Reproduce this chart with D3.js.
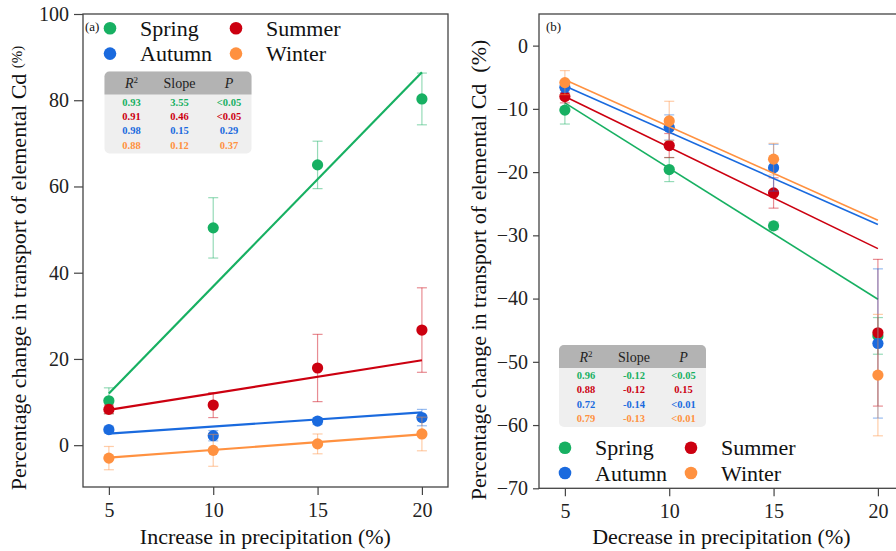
<!DOCTYPE html>
<meta charset="utf-8">
<style>
body { margin: 0; background: #fff; }
svg text { font-family: "Liberation Serif", "Times New Roman", serif !important; }
.tick text { font-size: 20px; fill: #222; }
.tick line { stroke: #444; stroke-width: 1.2px; }
.frame { fill: none; stroke: #444; stroke-width: 1.3px; }
.cell { font-weight: bold; font-size: 10.5px; text-anchor: middle; }
.head { font-size: 14px; text-anchor: middle; fill: #222; }
.legend text { font-size: 22px; fill: #111; }
</style>
<body>
<script src="https://d3js.org/d3.v7.min.js"></script>
<script>
var width = 896,
    height = 551;

var seasons = ["Spring", "Summer", "Autumn", "Winter"];
var colors = ["#17b062", "#cc0010", "#1a6ade", "#ff9140"];
var precip = [5, 10, 15, 20];
var fitX = [5, 20];

// (a) increase in precipitation
var incSpring = [10.3, 50.4, 65.0, 80.3],
    incSummer = [8.3, 9.3, 17.9, 26.7],
    incAutumn = [3.6, 2.2, 5.6, 6.4],
    incWinter = [-3.0, -1.2, 0.3, 2.6];
var incSpringErr = [3.0, 7.0, 5.5, 6.0],
    incSummerErr = [1.0, 2.9, 7.8, 9.8],
    incAutumnErr = [0.8, 1.2, 0.8, 1.9],
    incWinterErr = [2.7, 3.7, 2.3, 3.9];
var incFit = [[12.0, 86.5], [8.2, 19.7], [2.7, 7.6], [-2.9, 2.5]];
var incR2 = ["0.93", "0.91", "0.98", "0.88"],
    incSlope = ["3.55", "0.46", "0.15", "0.12"],
    incP = ["<0.05", "<0.05", "0.29", "0.37"];
var incTicks = [0, 20, 40, 60, 80, 100];

// (b) decrease in precipitation
var decSpring = [-10.2, -19.6, -28.5, -45.9],
    decSummer = [-8.05, -15.8, -23.3, -45.4],
    decAutumn = [-6.6, -12.95, -19.3, -47.1],
    decWinter = [-5.85, -11.9, -17.95, -52.1];
var decSpringErr = [2.2, 1.9, 0.6, 2.9],
    decSummerErr = [1.0, 1.9, 2.4, 11.6],
    decAutumnErr = [0.8, 2.0, 3.7, 11.8],
    decWinterErr = [1.9, 3.1, 2.5, 9.6];
var decFit = [[-9.05, -40.1], [-8.05, -32.1], [-6.4, -28.3], [-5.4, -27.6]];
var decR2 = ["0.96", "0.88", "0.72", "0.79"],
    decSlope = ["-0.12", "-0.12", "-0.14", "-0.13"],
    decP = ["<0.05", "0.15", "<0.01", "<0.01"];
var decTicks = [0, -10, -20, -30, -40, -50, -60, -70];

var svg = d3.select("body").append("svg")
    .attr("width", width)
    .attr("height", height);

function drawPanel(p) {
  var x = d3.scaleLinear().domain([3.76, 21.25]).range(p.xr);
  var y = d3.scaleLinear().domain(p.yd).range(p.yr);
  var g = svg.append("g");

  g.append("g")
      .attr("transform", "translate(0," + p.yr[0] + ")")
      .call(d3.axisBottom(x).tickValues(precip).tickSize(8).tickPadding(8))
      .call(a => a.select(".domain").remove());
  g.append("g")
      .attr("transform", "translate(" + p.xr[0] + ",0)")
      .call(d3.axisLeft(y).tickValues(p.ticks).tickSize(p.ytick).tickPadding(5))
      .call(a => a.select(".domain").remove());

  g.append("rect").attr("class", "frame")
      .attr("x", p.xr[0]).attr("y", p.yr[1])
      .attr("width", p.xr[1] - p.xr[0]).attr("height", p.yr[0] - p.yr[1]);

  p.means.forEach(function(m, i) {
    var c = colors[i], err = p.errs[i];
    var s = g.append("g");
    var eb = s.selectAll(".err").data(precip).enter().append("g")
        .attr("stroke", c).attr("stroke-opacity", 0.45).attr("stroke-width", 1.2);
    eb.append("line")
        .attr("x1", d => x(d)).attr("x2", d => x(d))
        .attr("y1", (d, j) => y(m[j] - err[j])).attr("y2", (d, j) => y(m[j] + err[j]));
    [-1, 1].forEach(function(sg) {
      eb.append("line")
          .attr("x1", d => x(d) - 5).attr("x2", d => x(d) + 5)
          .attr("y1", (d, j) => y(m[j] + sg * err[j])).attr("y2", (d, j) => y(m[j] + sg * err[j]));
    });
    s.append("path")
        .datum(fitX.map((v, j) => [v, p.fits[i][j]]))
        .attr("fill", "none").attr("stroke", c).attr("stroke-width", p.lw)
        .attr("d", d3.line().x(d => x(d[0])).y(d => y(d[1])));
    s.selectAll("circle").data(m).enter().append("circle")
        .attr("cx", (d, j) => x(precip[j])).attr("cy", d => y(d))
        .attr("r", 5.6).attr("fill", c);
  });

  // stats table
  var t = g.append("g").attr("transform", "translate(" + p.table[0] + "," + p.table[1] + ")");
  t.append("rect").attr("width", 147).attr("height", 82).attr("rx", 5).attr("fill", "#efefef");
  t.append("path").attr("fill", "#b3b3b3")
      .attr("d", "M0,23V5A5,5 0 0 1 5,0H142A5,5 0 0 1 147,5V23Z");
  var cols = [27, 75, 124.5];
  var h1 = t.append("text").attr("class", "head").attr("x", cols[0]).attr("y", 16.5);
  h1.append("tspan").style("font-style", "italic").text("R");
  h1.append("tspan").attr("font-size", "9px").attr("dy", -5).text("2");
  t.append("text").attr("class", "head").attr("x", cols[1]).attr("y", 16.5).text("Slope");
  t.append("text").attr("class", "head").attr("x", cols[2]).attr("y", 16.5)
      .style("font-style", "italic").text("P");
  [p.r2, p.slope, p.pv].forEach(function(col, k) {
    t.selectAll(null).data(col).enter().append("text")
        .attr("class", "cell")
        .attr("x", cols[k]).attr("y", (d, j) => 34 + j * 14.4)
        .attr("fill", (d, j) => colors[j])
        .text(d => d);
  });

  // legend
  var lg = g.append("g").attr("class", "legend");
  seasons.forEach(function(s, i) {
    var lx = p.leg[0] + (i % 2) * 126, ly = p.leg[1] + Math.floor(i / 2) * 25.3;
    lg.append("circle").attr("cx", lx).attr("cy", ly).attr("r", 6.3).attr("fill", colors[i]);
    lg.append("text").attr("x", lx + 30).attr("y", ly + 7.5).text(s);
  });

  g.append("text").attr("x", p.tag[0]).attr("y", p.tag[1])
      .attr("font-size", "13px").attr("fill", "#111").text(p.tagText);

  g.append("text")
      .attr("x", (x(5) + x(20)) / 2).attr("y", 544)
      .attr("text-anchor", "middle").attr("font-size", "22px").attr("fill", "#111")
      .text(p.xTitle);
}

drawPanel({
  xr: [83, 448], yd: [-9.7, 100], yr: [487, 14], ticks: incTicks, ytick: 9, lw: 2.2,
  means: [incSpring, incSummer, incAutumn, incWinter],
  errs: [incSpringErr, incSummerErr, incAutumnErr, incWinterErr],
  fits: incFit, r2: incR2, slope: incSlope, pv: incP,
  table: [104.5, 71.5], leg: [110, 28.3], tag: [85, 31], tagText: "(a)",
  xTitle: "Increase in precipitation (%)"
});

drawPanel({
  xr: [539, 904], yd: [-70, 5], yr: [488.3, 14], ticks: decTicks, ytick: 6, lw: 1.6,
  means: [decSpring, decSummer, decAutumn, decWinter],
  errs: [decSpringErr, decSummerErr, decAutumnErr, decWinterErr],
  fits: decFit, r2: decR2, slope: decSlope, pv: decP,
  table: [559, 345], leg: [565, 447.7], tag: [546, 31], tagText: "(b)",
  xTitle: "Decrease in precipitation (%)"
});

// y-axis titles
var ya = svg.append("text")
    .attr("transform", "translate(26,268) rotate(-90)")
    .attr("text-anchor", "middle").attr("font-size", "22px").attr("fill", "#111");
ya.append("tspan").text("Percentage change in transport of elemental Cd ");
ya.append("tspan").attr("font-size", "15px").attr("dy", -4).text("(%)");

svg.append("text")
    .attr("transform", "translate(486,270) rotate(-90)")
    .attr("text-anchor", "middle").attr("font-size", "22px").attr("fill", "#111")
    .attr("xml:space", "preserve")
    .text("Percentage change in transport of elemental Cd  (%)");
</script>
</body>
</html>
